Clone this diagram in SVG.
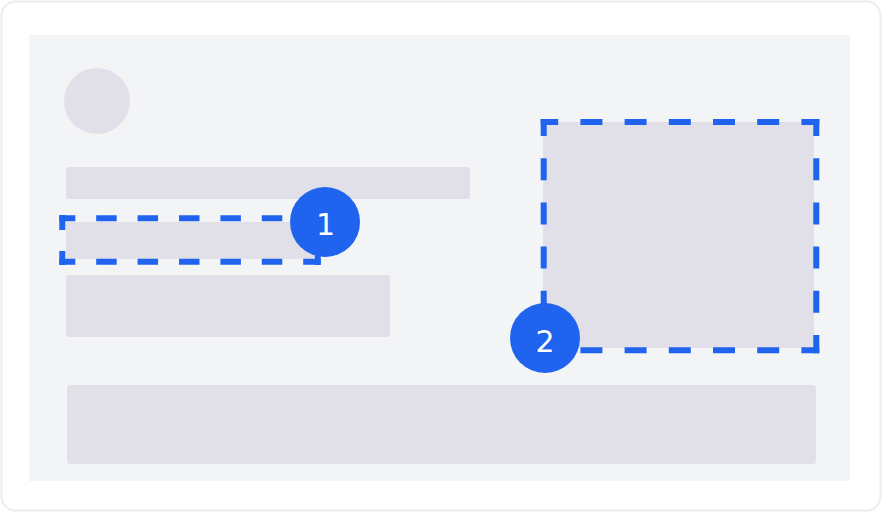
<svg xmlns="http://www.w3.org/2000/svg" width="882" height="512" viewBox="0 0 882 512">
  <style>
    .ph { fill: #e1e0e8; }
    .sel { stroke: #1f63ee; stroke-width: 6; fill: none; stroke-linecap: butt; }
    .selA { stroke-dasharray: 20.5 20.9; }
    .selB { stroke-dasharray: 22 22.2; }
    .badge { fill: #1f63ee; }
    .badge-text { fill: #ffffff; font-family: "DejaVu Sans", "Noto Sans", sans-serif; font-size: 30px; font-weight: normal; text-anchor: middle; }
  </style>
  <g id="card">
    <rect x="1.5" y="1.5" width="879" height="509" rx="14" ry="14" fill="#ffffff" stroke="#ececef" stroke-width="2"/>
    <rect x="29" y="35" width="821" height="446" fill="#f3f4f6"/>
  </g>
  <g id="avatar">
    <circle cx="97" cy="101" r="33" class="ph"/>
  </g>
  <g id="title-bar">
    <rect x="66" y="167" width="404" height="32" rx="3" class="ph"/>
  </g>
  <g id="field-1">
    <rect x="66" y="222" width="248" height="37" rx="2" class="ph"/>
    <line class="sel selA" x1="59.3" y1="218.3" x2="320.7" y2="218.3" stroke-dashoffset="4.5"/>
    <line class="sel selA" x1="59.3" y1="261.7" x2="320.7" y2="261.7" stroke-dashoffset="4.5"/>
    <line class="sel selA" x1="62.3" y1="215" x2="62.3" y2="265" stroke-dashoffset="5.5"/>
    <line class="sel selA" x1="317.7" y1="215" x2="317.7" y2="265" stroke-dashoffset="5.5"/>
  </g>
  <g id="text-block">
    <rect x="66" y="275" width="324" height="62" rx="3" class="ph"/>
  </g>
  <g id="media">
    <rect x="543" y="122" width="271" height="226" class="ph"/>
    <line class="sel selB" x1="540.7" y1="122" x2="819.3" y2="122" stroke-dashoffset="4.5"/>
    <line class="sel selB" x1="540.7" y1="350.3" x2="819.3" y2="350.3" stroke-dashoffset="4.5"/>
    <line class="sel selB" x1="543.7" y1="119" x2="543.7" y2="353.3" stroke-dashoffset="5"/>
    <line class="sel selB" x1="816.3" y1="119" x2="816.3" y2="353.3" stroke-dashoffset="5"/>
  </g>
  <g id="footer-bar">
    <rect x="67" y="385" width="749" height="79" rx="3" class="ph"/>
  </g>
  <g id="connectors"></g>
  <g id="badge-1">
    <circle cx="325" cy="222" r="35" class="badge"/>
    <text x="325.5" y="235" class="badge-text">1</text>
  </g>
  <g id="badge-2">
    <circle cx="545" cy="338" r="35" class="badge"/>
    <text x="545" y="351.5" class="badge-text">2</text>
  </g>
</svg>
